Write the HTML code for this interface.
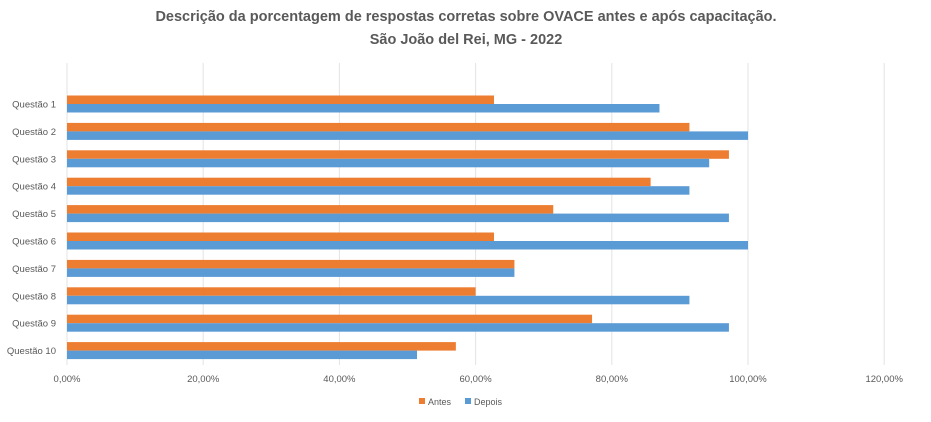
<!DOCTYPE html>
<html><head><meta charset="utf-8"><style>
body{margin:0;background:#fff;width:931px;height:417px;overflow:hidden;font-family:"Liberation Sans",sans-serif;}
</style></head><body>
<svg width="931" height="417">
<text x="466" y="21" text-anchor="middle" font-size="14.5" font-weight="bold" fill="#595959">Descrição da porcentagem de respostas corretas sobre OVACE antes e após capacitação.</text>
<text x="466" y="44" text-anchor="middle" font-size="14.5" font-weight="bold" fill="#595959">São João del Rei, MG - 2022</text>
<g id="grid"></g><g id="bars"></g><g id="labels"></g>
<g>
<rect x="419" y="398" width="6" height="6" fill="#ed7d31"/>
<text x="428" y="405" font-size="9" fill="#595959">Antes</text>
<rect x="465" y="398" width="6" height="6" fill="#5b9bd5"/>
<text x="474" y="405" font-size="9" fill="#595959">Depois</text>
</g>
</svg>
<script>
const categories=["Questão 1","Questão 2","Questão 3","Questão 4","Questão 5","Questão 6","Questão 7","Questão 8","Questão 9","Questão 10"];
const antes=[62.7,91.4,97.2,85.7,71.4,62.7,65.7,60,77.1,57.1];
const depois=[87,100,94.3,91.4,97.2,100,65.7,91.4,97.2,51.4];
const ticks=[0,20,40,60,80,100,120];
const tickLabels=["0,00%","20,00%","40,00%","60,00%","80,00%","100,00%","120,00%"];
const NS="http://www.w3.org/2000/svg";
const x0=67,pxPer=6.81,yTop=63,yBot=365,rowH=(yBot-90.5-yTop+13.5)/ (categories.length-1);
function X(v){return x0+v*pxPer;}
function Yc(i){return 104+i*27.4;}
function mk(t,a,p){const e=document.createElementNS(NS,t);for(const k in a)e.setAttribute(k,a[k]);p.appendChild(e);return e;}
const g=document.getElementById('grid'),b=document.getElementById('bars'),l=document.getElementById('labels');
ticks.forEach((t,i)=>{
 const ln=mk('line',{x1:X(t),x2:X(t),y1:yTop,y2:yBot,stroke:'#e3e3e3','stroke-width':1},g);
 
 
 const tx=mk('text',{x:X(t),y:382,'text-anchor':'middle','font-size':9.5,fill:'#595959'},l);
 tx.textContent=tickLabels[i];
 
 
});
categories.forEach((c,i)=>{
 const yc=Yc(i);
 const r1=mk('rect',{x:x0,y:yc-8.5,width:X(antes[i])-x0,height:8.5,fill:'#ed7d31'},b);
 
 
 const r2=mk('rect',{x:x0,y:yc,width:X(depois[i])-x0,height:8.5,fill:'#5b9bd5'},b);
 
 
 const t=mk('text',{x:56,y:yc+3.5,'text-anchor':'end','font-size':9.5,fill:'#595959'},l);
 t.textContent=c;
 
 
});
</script>
</body></html>
